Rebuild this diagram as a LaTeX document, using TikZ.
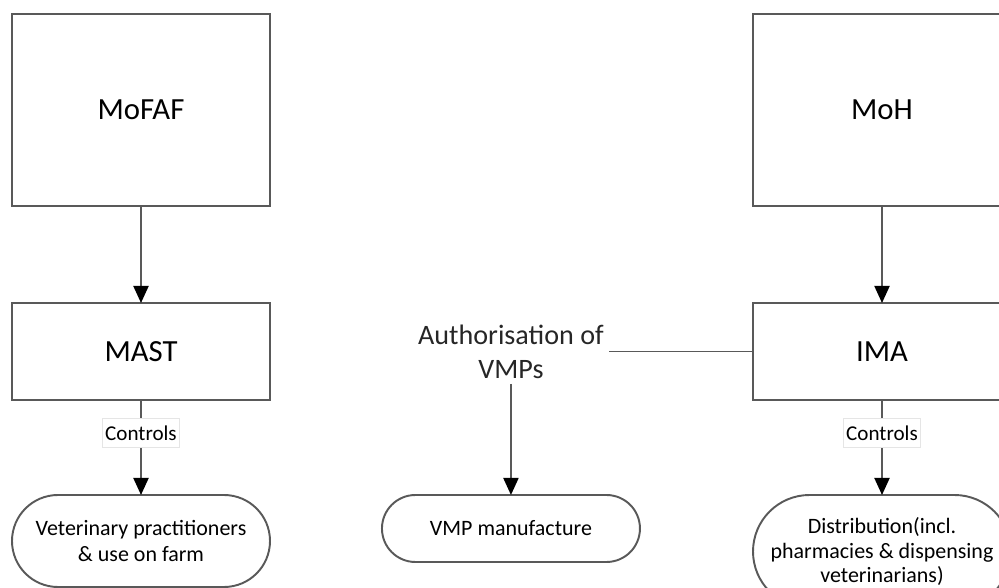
\documentclass[tikz,border=0pt]{standalone}
\usepackage{fontspec}
\setmainfont{Carlito}
\usetikzlibrary{arrows.meta,positioning}

\tikzset{
    box/.style={draw=black!65, rectangle, minimum width=5.16cm, inner sep=0pt, outer sep=0pt, font=\fontsize{17.5}{21}\selectfont},
    endbox/.style={draw=black!65, rectangle, minimum width=5.16cm, inner sep=0pt, outer sep=0pt, align=center, font=\fontsize{12.5}{14.5}\selectfont},
    ctrl/.style={draw=black!10, line width=0.4pt, fill=white, minimum height=0.58cm, inner xsep=1.5pt, inner ysep=0pt, font=\fontsize{12}{14}\selectfont},
    arr/.style={draw=black!65, -{Triangle[width=0.3cm, length=0.34cm, color=black]}}
}

\begin{document}
\begin{tikzpicture}[line width=1.1pt]
    \useasboundingbox (-2.82,2.2) rectangle (17.16,-9.56);

    % Ministries
    \node[box, minimum height=3.84cm] (mofaf) at (0,0) {MoFAF};
    \node[box, minimum height=3.84cm, right=9.66cm of mofaf] (moh) {MoH};

    % Agencies
    \node[box, minimum height=1.94cm, below=1.94cm of mofaf] (mast) {MAST};
    \node[box, minimum height=1.94cm, below=1.94cm of moh] (ima) {IMA};

    % Authorisation
    \node[align=center, inner sep=3pt, outer sep=0pt, text=black!85, font=\fontsize{16}{19.5}\selectfont, left=2.88cm of ima] (auth) {Authorisation of\\VMPs};

    % Controlled parties
    \node[endbox, minimum height=1.84cm, rounded corners=0.92cm, font=\fontsize{12.5}{15.3}\selectfont, below=1.9cm of mast] (vet) {Veterinary practitioners\\\& use on farm};
    \node[endbox, minimum height=1.34cm, rounded corners=0.67cm, anchor=north] (vmp) at (auth |- vet.north) {VMP manufacture};
    \node[endbox, minimum height=2.26cm, rounded corners=1.13cm, font=\fontsize{12.5}{14}\selectfont, below=1.9cm of ima] (dist) {Distribution(incl.\\pharmacies \& dispensing\\veterinarians)};

    \draw[arr] (mofaf) -- (mast);
    \draw[arr] (moh) -- (ima);
    \draw[arr] (mast) -- node[ctrl, pos=0.35] {Controls} (vet);
    \draw[arr] (ima) -- node[ctrl, pos=0.35] {Controls} (dist);
    \draw[draw=black!65] (ima) -- (auth);
    \draw[arr] (auth) -- (vmp);

\end{tikzpicture}
\end{document}
